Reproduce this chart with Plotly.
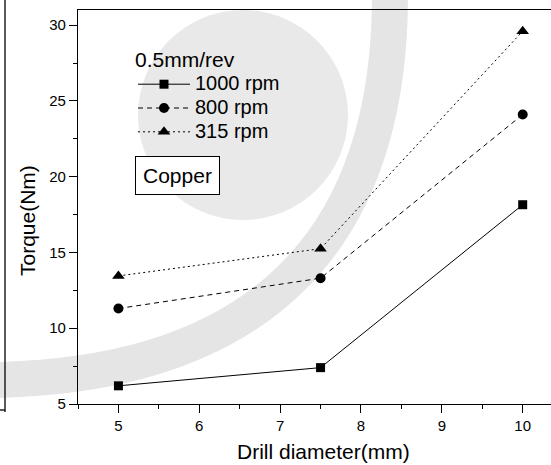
import plotly.graph_objects as go

diameters = [5, 7.5, 10]
torque_1000 = [6.2, 7.4, 18.15]
torque_800 = [11.3, 13.3, 24.1]
torque_315 = [13.45, 15.25, 29.6]
series_names = ["1000 rpm", "800 rpm", "315 rpm"]
feed_label = "0.5mm/rev"
material_label = "Copper"
x_title = "Drill diameter(mm)"
y_title = "Torque(Nm)"

FONT = "Liberation Sans, Arial, sans-serif"
W, H = 551, 465
ML, MR, MT, MB = 78, 0, 10, 61
PW, PH = W - ML - MR, H - MT - MB


def px(x):
    return (x - ML) / PW


def py(y):
    return 1 - (y - MT) / PH


fig = go.Figure()
styles = [("solid", "square", 9), ("5px,4px", "circle", 10), ("2px,3px", "triangle-up", 11)]
for name, ys, (dash, sym, ms) in zip(series_names, [torque_1000, torque_800, torque_315], styles):
    fig.add_trace(go.Scatter(
        x=diameters, y=ys, mode="lines+markers",
        name="<span style='font-size:20px'>%s</span>" % name,
        line=dict(color="black", width=1, dash=dash),
        marker=dict(symbol=sym, size=ms, color="black"),
    ))

axis_common = dict(
    showline=True, linecolor="black", linewidth=1.3,
    ticks="outside", ticklen=8, tickwidth=1.2, tickcolor="black",
    showgrid=False, zeroline=False, automargin=False,
    tickfont=dict(family=FONT, size=15, color="black"),
)

fig.update_xaxes(
    range=[4.5, 10.35], dtick=1, tick0=5,
    minor=dict(dtick=0.5, tick0=5, ticks="outside", ticklen=4, tickcolor="black", tickwidth=1.2),
    mirror=True,
    **axis_common,
)
fig.update_yaxes(
    range=[5, 31], dtick=5, tick0=5,
    minor=dict(dtick=2.5, tick0=5, ticks="outside", ticklen=4, tickcolor="black", tickwidth=1.2),
    **axis_common,
)

# light grey watermark (logo disc and arc band) behind the chart
fig.add_shape(type="circle", xref="paper", yref="paper", layer="below",
              x0=px(138), x1=px(348), y0=py(220), y1=py(10),
              fillcolor="#e9e9e9", line=dict(width=0))
band = "M%f,%f C%f,%f %f,%f %f,%f" % (px(-5), py(380), px(250), py(375), px(390), py(250), px(390), py(-5))
fig.add_shape(type="path", xref="paper", yref="paper", layer="below", path=band,
              line=dict(color="#e5e5e5", width=36))

# axis titles
fig.add_annotation(xref="paper", yref="paper", x=px(323), y=py(452), text=x_title,
                   showarrow=False, xanchor="center", yanchor="middle",
                   font=dict(family=FONT, size=21, color="black"))
fig.add_annotation(xref="paper", yref="paper", x=px(27), y=py(221), text=y_title,
                   showarrow=False, xanchor="center", yanchor="middle", textangle=-90,
                   font=dict(family=FONT, size=21, color="black"))

fig.add_annotation(
    xref="paper", yref="paper", x=px(177.5), y=py(175.5), text=material_label,
    showarrow=False, xanchor="center", yanchor="middle",
    font=dict(family=FONT, size=21, color="black"),
    bordercolor="black", borderwidth=1, borderpad=7, bgcolor="white",
)

# remnant of the neighbouring panel on the left edge
fig.add_shape(type="line", xref="paper", yref="paper", x0=px(5), x1=px(5), y0=py(412), y1=py(-2),
              line=dict(color="black", width=1.3))
fig.add_shape(type="line", xref="paper", yref="paper", x0=px(-2), x1=px(5), y0=py(410), y1=py(410),
              line=dict(color="black", width=1.3))

fig.update_layout(
    width=W, height=H,
    margin=dict(l=ML, r=MR, t=MT, b=MB),
    paper_bgcolor="white", plot_bgcolor="rgba(0,0,0,0)",
    font=dict(family=FONT, color="black"),
    showlegend=True,
    legend=dict(
        x=px(133), y=py(40), xanchor="left", yanchor="top",
        bgcolor="rgba(0,0,0,0)", borderwidth=0,
        title=dict(text=feed_label, font=dict(family=FONT, size=21, color="black")),
        font=dict(family=FONT, size=16, color="black"),
        tracegroupgap=0, itemwidth=52,
    ),
)

fig.write_html("out.html", config={"displayModeBar": False},
               post_script="document.body.style.margin='0';document.body.style.padding='0';")
